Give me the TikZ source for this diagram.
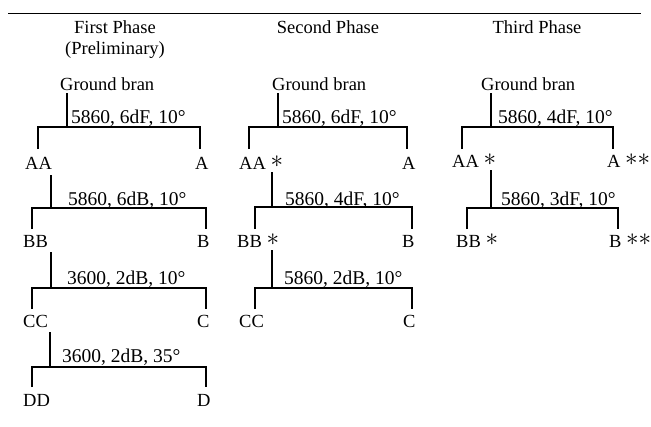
\documentclass[tikz,border=0pt]{standalone}
\usepackage{fontspec}
\setmainfont{Liberation Serif}
\newcommand\myast{\raisebox{0.1em}{\scalebox{1.45}{$\ast$}}}
\newcommand\mybracket[7]{%
  \coordinate (#1t) at (#2,#3);
  \coordinate (#1j) at (#2,#4);
  \coordinate (#1l) at (#5,#4);
  \coordinate (#1r) at (#6,#4);
  \coordinate (#1ld) at (#5,#7);
  \coordinate (#1rd) at (#6,#7);
  \draw[ln] (#1t) -- (#1j);
  \draw[ln] (#1ld) -- (#1l) -- (#1r) -- (#1rd);
}
\tikzset{
  txt/.style={anchor=base west, inner sep=0pt, font=\fontsize{18.5}{22}\selectfont},
  lab/.style={anchor=base west, inner sep=0pt, font=\fontsize{19.5}{22}\selectfont},
  hd/.style={anchor=base, inner sep=0pt, font=\fontsize{18.5}{22}\selectfont},
  ln/.style={line width=1.5pt, line join=miter},
}
\begin{document}
\begin{tikzpicture}[x=1pt,y=-1pt]
\useasboundingbox (0,0) rectangle (651,426);
% top rule
\coordinate (rl) at (8,13.5);
\coordinate (rr) at (641,13.5);
\draw[line width=1.3pt] (rl) -- (rr);
% headers
\node[hd] (h1a) at (115,33) {First Phase};
\node[hd] (h1b) at (115,54) {(Preliminary)};
\node[hd] (h2) at (328,33) {Second Phase};
\node[hd] (h3) at (537,33) {Third Phase};
% column 1
\node[txt] (gb1) at (60,90) {Ground bran};
\mybracket{a1}{67}{93}{127}{38}{200}{149}
\node[lab] (l11) at (71,123) {5860, 6dF, 10°};
\node[txt] (AA1) at (25,169) {AA};
\node[txt] (A1) at (195,169) {A};
\mybracket{a2}{51}{175}{208}{32}{206}{229}
\node[lab] (l12) at (68,205) {5860, 6dB, 10°};
\node[txt] (BB1) at (23,247) {BB};
\node[txt] (B1) at (197,247) {B};
\mybracket{a3}{51}{252}{288}{32}{206}{309}
\node[lab] (l13) at (67,284) {3600, 2dB, 10°};
\node[txt] (CC1) at (23,327) {CC};
\node[txt] (C1) at (197,327) {C};
\mybracket{a4}{50}{332}{367}{32}{206}{387}
\node[lab] (l14) at (62,362) {3600, 2dB, 35°};
\node[txt] (DD1) at (23,406) {DD};
\node[txt] (D1) at (197,406) {D};
% column 2
\node[txt] (gb2) at (272,90) {Ground bran};
\mybracket{b1}{278}{93}{127}{249}{407}{149}
\node[lab] (l21) at (282,123) {5860, 6dF, 10°};
\node[txt] (AA2) at (239,169) {AA \myast};
\node[txt] (A2) at (402,169) {A};
\mybracket{b2}{272}{172}{207}{255}{412}{229}
\node[lab] (l22) at (285,205) {5860, 4dF, 10°};
\node[txt] (BB2) at (237,247) {BB \myast};
\node[txt] (B2) at (402,247) {B};
\mybracket{b3}{272}{250}{288}{255}{412}{309}
\node[lab] (l23) at (284,284) {5860, 2dB, 10°};
\node[txt] (CC2) at (239,327) {CC};
\node[txt] (C2) at (403,327) {C};
% column 3
\node[txt] (gb3) at (481,90) {Ground bran};
\mybracket{c1}{491}{93}{127}{462}{613}{149}
\node[lab] (l31) at (498,123) {5860, 4dF, 10°};
\node[txt] (AA3) at (452,167) {AA \myast};
\node[txt] (A3) at (607,167) {A \myast\myast};
\mybracket{c2}{491}{170}{208}{467}{618}{229}
\node[lab] (l32) at (501,205) {5860, 3dF, 10°};
\node[txt] (BB3) at (456,247) {BB \myast};
\node[txt] (B3) at (609,247) {B \myast\myast};
\end{tikzpicture}
\end{document}
